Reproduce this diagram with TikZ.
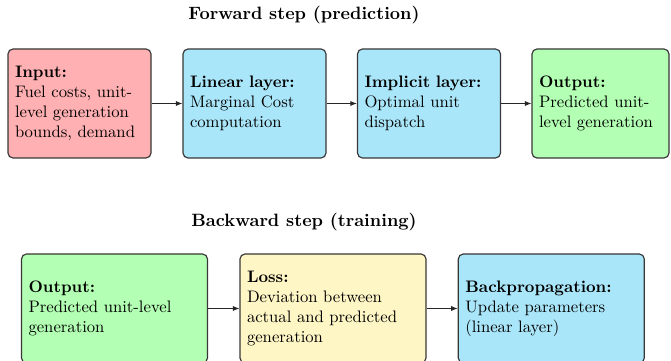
\documentclass[tikz,border=0pt]{standalone}
\usetikzlibrary{arrows.meta}
\definecolor{pinkbox}{RGB}{255,176,178}
\definecolor{bluebox}{RGB}{170,230,249}
\definecolor{greenbox}{RGB}{179,255,179}
\definecolor{yellowbox}{RGB}{255,246,198}
\definecolor{edgegray}{RGB}{55,55,55}
\tikzset{
  box/.style={draw=edgegray, line width=0.7pt, rounded corners=3pt, rectangle,
    inner xsep=4.2pt, inner ysep=2pt, align=left, font=\normalsize,
    minimum height=65.4pt},
  topbox/.style={box, text width=77.4pt},
  topnarrow/.style={box, text width=73.8pt},
  botbox/.style={box, text width=103.2pt},
  title/.style={font=\fontsize{10.7}{13}\selectfont\bfseries, anchor=base, inner sep=0pt},
  conn/.style={line width=0.6pt, draw=black!85, -{Latex[length=4pt,width=3.2pt]}}
}
\begin{document}
\begin{tikzpicture}[x=0.6pt,y=-0.6pt]
\useasboundingbox (0,0) rectangle (671,361);
\clip (0,0) rectangle (671,361);
\node[title] (t1) at (304,20) {Forward step (prediction)};
\node[title] (t2) at (304,227) {Backward step (training)};

\node[topbox, fill=pinkbox] (in) at (79.5,103.5) {\textbf{Input:}\\Fuel costs, unit-\\level generation\\bounds, demand};
\node[topbox, fill=bluebox] (lin) at (254.5,103.5) {\textbf{Linear layer:}\\Marginal Cost\\computation};
\node[topbox, fill=bluebox] (imp) at (429,103.5) {\textbf{Implicit layer:}\\Optimal unit\\dispatch};
\node[topnarrow, fill=greenbox] (out) at (600.5,103.5) {\textbf{Output:}\\Predicted unit-\\level generation};

\node[botbox, fill=greenbox] (bout) at (114.5,308.5) {\textbf{Output:}\\Predicted unit-level\\generation};
\node[botbox, fill=yellowbox] (loss) at (333,308.5) {\textbf{Loss:}\\Deviation between\\actual and predicted\\generation};
\node[botbox, fill=bluebox] (bp) at (551.3,308.5) {\textbf{Backpropagation:}\\Update parameters\\(linear layer)};

\draw[conn] (in) -- (lin);
\draw[conn] (lin) -- (imp);
\draw[conn] (imp) -- (out);
\draw[conn] (bout) -- (loss);
\draw[conn] (loss) -- (bp);
\end{tikzpicture}
\end{document}
